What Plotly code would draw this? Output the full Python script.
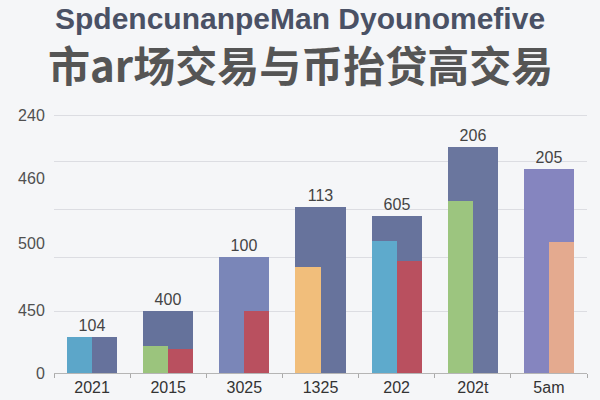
import plotly.graph_objects as go

# -------------------------------------------------------------------------------------
# DATA --------------------------------------------------------------------------------
# -------------------------------------------------------------------------------------

categories = ['2021', '2015', '3025', '1325', '202', '202t', '5am']
total_vals = [36, 62, 116, 166, 157, 226, 204]
total_text = ['104', '400', '100', '113', '605', '206', '205']
left_vals = [36, 27, None, 106, 132, 172, None]
right_vals = [None, 24.5, 62, None, 112, None, 131]

# y axis: labels and gridlines do not line up in the picture
ytick_vals = [0, 63, 130, 195, 258]
ytick_text = ['0', '450', '500', '460', '240']
grid_vals = [0, 62, 116, 164, 212, 258]

total_colors = ['#66729c', '#65729b', '#7a86b8', '#67739c', '#67739c', '#6a769e', '#8585bf']
left_colors = ['#5ca6c9', '#9bc47d', '#7a86b8', '#f1be7b', '#5eaacc', '#9cc57f', '#8585bf']
right_colors = ['#66729c', '#b9505f', '#b9505f', '#67739c', '#b9505f', '#6a769e', '#e4aa8f']

# -------------------------------------------------------------------------------------
# FIGURE ------------------------------------------------------------------------------
# -------------------------------------------------------------------------------------

bar_w = 0.66
fig = go.Figure()
fig.add_trace(go.Bar(x=categories, y=total_vals, width=bar_w, marker=dict(color=total_colors, line=dict(width=0)),
                     text=total_text, textposition='outside', cliponaxis=False,
                     textfont=dict(family='Liberation Sans', size=16, color='#444444'), showlegend=False))
fig.add_trace(go.Bar(x=categories, y=left_vals, width=bar_w / 2, offset=-bar_w / 2,
                     marker=dict(color=left_colors, line=dict(width=0)), showlegend=False))
fig.add_trace(go.Bar(x=categories, y=right_vals, width=bar_w / 2, offset=0,
                     marker=dict(color=right_colors, line=dict(width=0)), showlegend=False))

# invisible trace just to carry the gridline axis
fig.add_trace(go.Scatter(x=categories, y=[None] * len(categories), yaxis='y2', showlegend=False))

tick_font = dict(family='Liberation Sans', size=16, color='#505050')
title_x = (300 - 54) / (600 - 54 - 13)  # centre of the page, not of the plot
fig.update_layout(
    width=600, height=400,
    barmode='overlay', bargap=0,
    paper_bgcolor='#f5f6f8', plot_bgcolor='#f5f6f8',
    margin=dict(l=54, r=13, t=113, b=27),
    xaxis=dict(tickfont=dict(family='Liberation Sans', size=16, color='#333333'), ticks='outside', tickson='boundaries',
               ticklen=4, tickcolor='#aaaaaa', showline=True, linecolor='#b5b5b5', showgrid=False,
               automargin=False),
    yaxis=dict(range=[0, 260], tickvals=ytick_vals, ticktext=ytick_text, tickfont=tick_font,
               showgrid=False, zeroline=False, showline=False, ticks='outside', ticklen=5,
               tickcolor='rgba(0,0,0,0)', automargin=False),
    yaxis2=dict(range=[0, 260], overlaying='y', tickvals=grid_vals, showticklabels=False,
                showgrid=True, gridcolor='#dcdde2', gridwidth=1, zeroline=False, automargin=False),
    annotations=[
        dict(text='<b>SpdencunanpeMan Dyounomefive</b>', x=title_x, y=1.0, xref='paper', yref='paper',
             xanchor='center', yanchor='middle', yshift=95, showarrow=False,
             font=dict(family='Liberation Sans', size=30, color='#4a5165')),
        dict(text='<b>市ar场交易与币抬贷高交易</b>', x=title_x, y=1.0, xref='paper', yref='paper',
             xanchor='center', yanchor='middle', yshift=50, showarrow=False,
             font=dict(family='Noto Sans CJK SC', size=42, color='#555555')),
    ],
)

# page body has a default 8px margin, drop it so the figure fills the window
fig.write_html('out.html', config={'displayModeBar': False},
               post_script="document.body.style.margin='0';")
